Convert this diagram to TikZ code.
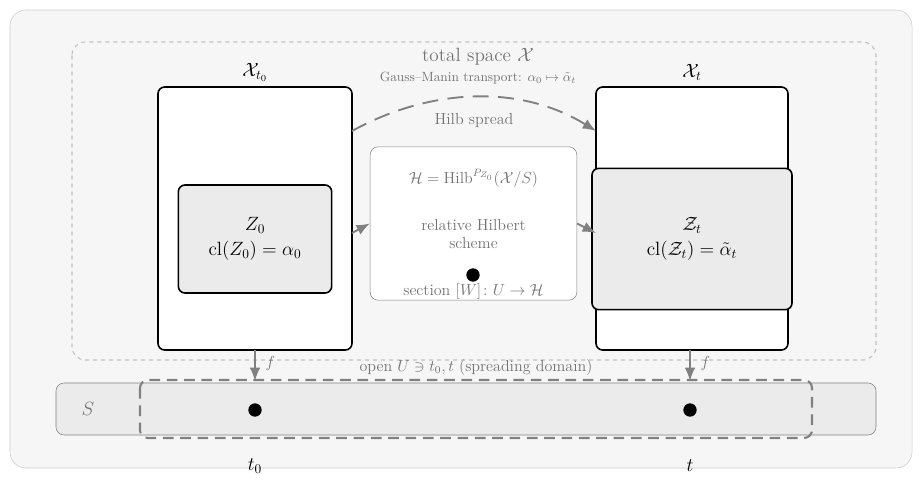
\documentclass[tikz,border=0pt]{standalone}
\usepackage{amsfonts,amssymb,amsmath}
\usepackage{mathtools}
\usepackage{tikz}
\usetikzlibrary{arrows.meta}
\tikzset{fib/.style = {draw, very thick, rounded corners=5, fill=white}}
\tikzset{sub/.style = {draw, very thick, rounded corners=5, fill=lgray, align=center}}
\tikzset{garrow/.style = {-{Latex[length=10pt,width=8pt]}, draw=mgray, line width=1.4pt}}
\tikzset{circ/.style = {fill, circle, inner sep = 0, minimum size = 10}}
\definecolor{bgray}{rgb}{0.965, 0.965, 0.965}
\definecolor{lgray}{rgb}{0.92, 0.92, 0.92}
\definecolor{mgray}{rgb}{0.5, 0.5, 0.5}
\definecolor{tgray}{rgb}{0.45, 0.45, 0.45}

\begin{document}
\begin{tikzpicture}[x=0.75pt, y=-0.75pt]
    \useasboundingbox (0, 0) rectangle (923, 486);
    \draw [rounded corners=12, draw=gray!40, fill=bgray] (10, 10) rectangle (912, 468);

    \draw [rounded corners=10, draw=gray!50, dashed, thick] (72, 42) rectangle (876, 360);
    \node (tot) [text=tgray, font=\Large] at (478, 57) {total space $\mathcal{X}$};
    \node (gm) [text=tgray, font=\normalsize, inner sep=1pt] at (478, 78) {Gauss--Manin transport: $\alpha_0 \mapsto \tilde{\alpha}_t$};

    \draw [fib] (158, 87) rectangle (352, 350);
    \draw [fib] (596, 87) rectangle (788, 350);
    \node (xl) [font=\Large] at (255, 72) {$\mathcal{X}_{t_0}$};
    \node (xr) [font=\Large] at (692, 72) {$\mathcal{X}_t$};
    \coordinate (lr) at (352, 233);
    \coordinate (rl) at (596, 233);

    \node (zl) [sub, minimum width=115, minimum height=81, font=\Large] at (255, 239)
      {$Z_0$\\[1pt] $\mathrm{cl}(Z_0) = \alpha_0$};
    \node (zr) [sub, minimum width=150, minimum height=106, font=\Large, inner sep=2pt] at (692, 239)
      {$\mathcal{Z}_t$\\[1pt] $\mathrm{cl}(\mathcal{Z}_t) = \tilde{\alpha}_t$};

    \node (hilb) [draw=mgray, rounded corners=6, fill=white, minimum width=155, minimum height=115] at (473.5, 223.5) {};
    \node (hdef) [text=tgray, font=\large] at (473.5, 178) {$\mathcal{H} = \mathrm{Hilb}^{P_{Z_0}}(\mathcal{X}/S)$};
    \node (hrel) [text=tgray, align=center, font=\large] at (473.5, 234) {relative Hilbert\\ scheme};
    \node (sec) [circ] at (473, 275) {};
    \node (secl) [text=tgray, font=\large] at (473.5, 291) {section $[W]\colon U \to \mathcal{H}$};

    \draw [garrow] (lr) -- (hilb.west);
    \draw [garrow] (hilb.east) -- (rl);

    \coordinate (sp0) at (352, 131);
    \coordinate (sp1) at (596, 131);
    \draw [garrow, dash pattern=on 12pt off 7pt] (sp0) .. controls (430, 88) and (520, 84) .. (sp1);
    \node (spl) [text=tgray, font=\large] at (474, 120) {Hilb spread};

    \node (base) [draw=mgray, rounded corners=6, fill=lgray, minimum width=615, minimum height=39] at (466, 409) {};
    \node (sl) [text=tgray, font=\Large] at (88, 409) {$S$};
    \draw [rounded corners=6, draw=mgray, line width=1.6pt, dash pattern=on 8pt off 5pt] (140, 380) rectangle (812, 438);
    \node (ul) [text=tgray, font=\large] at (476, 367) {open $U \ni t_0, t$ (spreading domain)};

    \node (t0) [circ] at (255, 410) {};
    \node (t1) [circ] at (690, 410) {};
    \node (t0l) [font=\Large] at (255, 466) {$t_0$};
    \node (t1l) [font=\Large] at (690, 466) {$t$};

    \draw [garrow] (255, 350) -- (255, 381) node [pos=0.45, right=4pt, text=tgray, font=\large] {$f$};
    \draw [garrow] (690, 350) -- (690, 381) node [pos=0.45, right=4pt, text=tgray, font=\large] {$f$};
\end{tikzpicture}
\end{document}
